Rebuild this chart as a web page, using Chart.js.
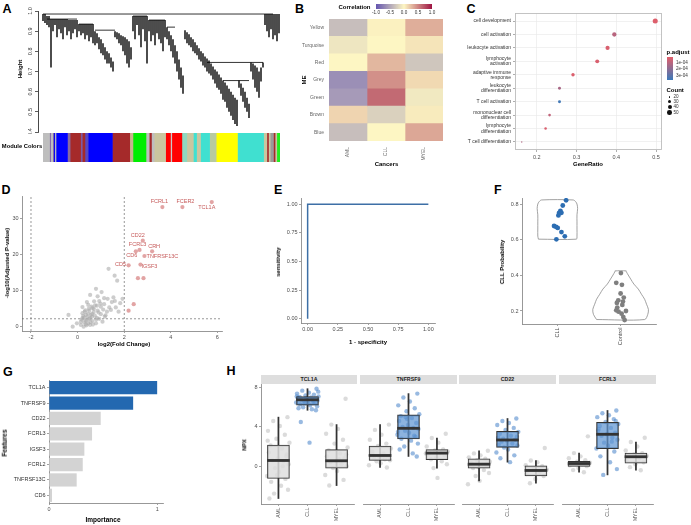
<!DOCTYPE html>
<html><head><meta charset="utf-8"><title>Figure</title>
<script src="https://cdn.jsdelivr.net/npm/chart.js@4.4.1/dist/chart.umd.min.js"></script>
<style>
html,body{margin:0;padding:0;background:#fff;}
#root{position:relative;width:691px;height:525px;overflow:hidden;font-family:'Liberation Sans',Arial,Helvetica,sans-serif;}
#root canvas{position:absolute;}
.t{position:absolute;white-space:nowrap;line-height:1;}
.sw{position:absolute;}
</style></head><body><div id="root"></div>
<script>
const FONT="'Liberation Sans', Arial, Helvetica, sans-serif";
Chart.defaults.font.family=FONT;
const root=document.getElementById('root');

// ================= DATA =================
// A: gene dendrogram (leaves left->right: leaf height, merge height) and module colour blocks
const dendroLow=[0.95,0.94,0.93,0.92,0.72,
0.90,0.93,0.87,0.91,0.89,0.86,0.92,0.88,0.90,0.86,0.89,0.91,0.87,
0.90,0.88,0.89,0.86,0.88,0.85,0.87,0.84,
0.83,0.84,0.81,0.79,0.78,0.76,0.74,0.74,0.72,0.70,
0.87,0.86,0.84,0.83,0.80,0.78,0.74,0.72,0.76,
0.90,0.86,0.93,0.88,0.82,0.91,0.85,0.74,
0.90,0.85,0.88,0.83,0.89,0.86,0.84,0.80,0.87,
0.86,0.83,0.80,0.77,0.74,0.70,0.66,0.62,0.59,
0.86,0.84,0.83,0.82,0.80,0.79,0.78,0.76,0.75,0.73,0.72,0.70,0.69,0.68,0.66,0.64,0.62,0.61,0.59,0.56,0.55,0.52,0.50,0.48,0.46,0.44,0.43,
0.62,0.58,0.55,0.52,0.50,0.47,
0.70,0.66,0.62,0.60,0.57,0.65,0.72,
0.93,0.90,0.87,0.91,0.86,0.88,0.85,0.89];
const dendroHigh=[0.985,0.985,0.975,0.975,0.96,
0.96,0.96,0.96,0.96,0.96,0.96,0.96,0.96,0.955,0.955,0.955,0.955,0.955,
0.935,0.935,0.935,0.935,0.935,0.935,0.935,0.935,
0.90,0.89,0.87,0.86,0.84,0.82,0.80,0.79,0.77,0.75,
0.90,0.895,0.89,0.88,0.875,0.87,0.86,0.85,0.82,
0.975,0.975,0.975,0.975,0.975,0.975,0.975,0.975,
0.955,0.955,0.955,0.955,0.955,0.955,0.955,0.955,0.955,
0.92,0.90,0.88,0.86,0.83,0.80,0.76,0.72,0.68,
0.905,0.895,0.885,0.87,0.86,0.845,0.83,0.815,0.80,0.79,0.775,0.765,0.755,0.74,0.725,0.71,0.70,0.685,0.67,0.655,0.645,0.63,0.615,0.60,0.585,0.57,0.56,
0.655,0.64,0.62,0.60,0.57,0.54,
0.745,0.74,0.73,0.72,0.70,0.72,0.745,
0.985,0.985,0.985,0.985,0.985,0.985,0.985,0.985];
const dendroMerges=[[0,115,0.985],[2,17,0.96],[18,25,0.935],[26,36,0.905],[45,52,0.975],[53,61,0.955],[62,66,0.92],[82,110,0.745],[90,103,0.655]];
const heightTicks=[0.4,0.5,0.6,0.7,0.8,0.9,1.0];
const moduleColors=['#bebebe','#7b5aa6','#bebebe','#7b5aa6','#0000ff','#bebebe','#0000ff','#8a6a9e','#a52a2a','#7b5aa6','#a52a2a','#5a48c0','#0000ff','#a52a2a','#c9b48f','#00ee00','#bebebe','#a52a2a','#bebebe','#cac69f','#ff0000','#c8c8c8','#ff0000','#8fd8c0','#cac69f','#40e0d0','#cac69f','#40e0d0','#b8caa0','#ffff00','#40e0d0','#cac69f','#a52a2a','#cac69f','#9a9a9a','#a52a2a','#cac69f','#22ee22'];
const moduleSizes=[6.7,1,2.3,1,1,1.3,11.7,2.7,10.7,1.7,2.7,3.3,24.7,17.7,3.3,13.3,3.3,2.3,2.7,11.7,5,1.3,10.3,5,6.7,3.3,4,9.3,6.7,21.7,26.7,3.3,1.7,1.7,3.3,1.7,1.7,3.3];

// B: module eigengene - cancer correlation
const meRows=['Yellow','Turquoise','Red','Grey','Green','Brown','Blue'];
const cancers=['AML','CLL','MYEL'];
const corrAML=[-0.35,-0.10,0.00,-0.64,-0.57,0.15,-0.35];
const corrCLL=[0.02,0.00,0.28,0.45,0.62,-0.23,0.00];
const corrMYEL=[0.32,0.08,-0.30,0.13,-0.08,0.05,0.35];
const corrTicks=[-1,-0.5,0,0.5,1];

// C: GO enrichment
const goTerms=[['cell development'],['cell activation'],['leukocyte activation'],['lymphocyte','activation'],['adaptive immune','response'],['leukocyte','differentiation'],['T cell activation'],['mononuclear cell','differentiation'],['lymphocyte','differentiation'],['T cell differentiation']];
const goRatio=[0.498,0.395,0.378,0.352,0.291,0.257,0.257,0.232,0.222,0.162];
const goCount=[55,44,42,39,33,29,29,26,25,18];
const goPadj=[0.2e-4,1.0e-4,0.3e-4,0.3e-4,0.25e-4,1.35e-4,3.5e-4,0.8e-4,0.3e-4,1.2e-4];
const goRatioTicks=[0.2,0.3,0.4,0.5];
const padjLegend=[1e-4,2e-4,3e-4];
const countLegend=[20,30,40,50];

// D: volcano
const volcanoX=[1.33,1.59,1.70,1.93,0.79,0.54,1.03,0.86,1.29,1.47,1.64,1.76,0.40,0.21,0.60,1.00,1.14,0.71,0.50,0.86,1.26,1.43,0.36,0.57,0.74,1.00,0.21,0.40,0.29,0.46,0.64,0.79,0.93,-0.39,-0.21,0.14,0.26,0.36,0.54,1.07,1.17,0.64,0.46,0.83,0.93,0.31,0.69,1.36,0.43,0.14,0.54,0.83,0.21,-0.03,1.14,1.54,1.83,0.24,0.35,0.50,0.62,0.45,0.70,0.28,0.55,0.66,0.38,0.90,1.10,0.75,1.20,0.48,0.98,1.60,0.18,0.33,0.62,0.80];
const volcanoY=[16.0,14.1,12.7,7.6,10.4,8.7,9.5,8.3,7.6,6.7,5.2,4.0,6.7,5.3,5.4,5.4,6.1,6.9,4.3,4.3,4.0,4.5,3.1,3.1,2.9,3.3,2.2,1.7,1.0,0.75,1.4,0.75,2.0,3.1,-0.2,0.3,-0.2,0.5,0.3,1.2,2.6,5.0,5.9,5.7,7.0,4.0,3.9,5.2,2.6,1.2,2.2,2.3,3.6,0.75,7.8,8.0,6.4,2.8,1.5,2.0,2.6,3.5,4.8,2.4,1.1,0.4,0.2,3.8,4.6,5.8,3.0,4.8,6.3,7.0,1.8,4.4,3.4,1.8];
const degGenes=['TCL1A','FCER2','FCRL1','CD22','FCRL3','CRH','CD6','TNFRSF13C','CD5','IGSF3','','','',''];
const degLogFC=[5.76,4.50,3.64,2.80,2.66,3.20,2.50,2.87,2.19,2.70,2.59,2.83,2.41,2.19];
const degNegLogP=[34.7,33.3,33.3,23.9,21.3,20.9,20.9,19.6,17.0,17.2,13.4,13.4,6.1,4.3];
const foldCutoffs=[-2,2];
const padjCutoff=2;
const fcTicks=[-2,0,2,4,6];
const pTicks=[0,10,20,30];

// E: ROC
const rocFPR=[0,0,1];
const rocTPR=[0,1,1];
const rocTicks=[0,0.25,0.5,0.75,1];

// F: predicted CLL probability
const probGroups=['CLL','Control'];
const cllProb=[0.821,0.792,0.762,0.751,0.751,0.736,0.677,0.672,0.666,0.643,0.619,0.602];
const cllJitter=[0.138,0.085,0.048,0.064,0.027,0.016,-0.053,-0.021,0.005,0.064,0.117,-0.016];
const ctrlProb=[0.413,0.358,0.347,0.298,0.275,0.260,0.253,0.245,0.234,0.219,0.204,0.200,0.196,0.185,0.166,0.149];
const ctrlJitter=[0.005,-0.069,0.021,0.0,0.05,-0.037,0.037,-0.059,0.027,-0.053,-0.069,0.085,-0.032,0.016,0.043,0.064];
const cllViolinY=[0.603,0.62,0.66,0.70,0.74,0.775,0.80,0.813,0.823];
const cllViolinHW=[0.30,0.31,0.31,0.31,0.31,0.32,0.31,0.29,0.25];
const ctrlViolinY=[0.152,0.181,0.209,0.238,0.266,0.294,0.323,0.351,0.379,0.402,0.421,0.425];
const ctrlViolinHW=[0.38,0.43,0.44,0.41,0.38,0.33,0.28,0.21,0.16,0.12,0.09,0.09];
const probTicks=[0.2,0.4,0.6,0.8];

// G: feature importance
const features=['TCL1A','TNFRSF9','CD22','FCRL3','IGSF3','FCRL2','TNFRSF13C','CD6'];
const importance=[1.0,0.778,0.478,0.398,0.327,0.312,0.256,0.028];
const selectedFeatures=['TCL1A','TNFRSF9'];

// H: NPX by cancer type  (box stats: min, Q1, median, Q3, max)
const npxGenes=['TCL1A','TNFRSF9','CD22','FCRL3'];
const npxGroups=['AML','CLL','MYEL'];
const npxTicks=[0,4,8];
const boxTCL1A=[[-3.3,-1.26,0.58,2.15,5.0],[5.7,6.22,6.77,7.1,7.9],[-1.98,-0.2,0.55,1.68,4.24]];
const boxTNFRSF9=[[-0.14,0.58,1.09,2.05,4.24],[0.99,2.77,3.86,5.23,7.4],[-0.2,0.65,1.33,1.68,2.87]];
const boxCD22=[[-1.5,-0.2,0.2,0.75,1.57],[0.41,1.91,2.67,3.56,4.86],[-1.74,-0.99,-0.44,0.03,0.58]];
const boxFCRL3=[[-0.62,-0.03,0.27,0.48,1.33],[-0.89,1.78,3.25,4.48,5.68],[-0.41,0.31,0.96,1.33,2.46]];
const tcl1aAML=[5.0,4.6,4.1,3.6,3.2,2.8,2.4,2.1,1.8,1.4,1.0,0.8,0.6,0.5,0.2,-0.2,-0.6,-1.0,-1.3,-1.6,-2.0,-2.4,-2.8,-3.3,0.0,1.2,-0.9,2.6];
const tcl1aCLL=[7.9,7.7,7.5,7.4,7.3,7.2,7.1,7.05,7.0,6.95,6.9,6.85,6.8,6.77,6.7,6.65,6.6,6.5,6.4,6.3,6.2,6.1,6.0,5.9,5.8,5.7,6.9,7.1,6.6,6.4,7.6,4.5,2.4];
const tcl1aMYEL=[6.87,4.24,3.8,3.3,2.7,2.3,1.9,1.6,1.3,1.0,0.8,0.55,0.4,0.2,0.0,-0.2,-0.5,-0.9,-1.4,-1.98,0.7,1.2];
const tnfrsf9AML=[4.24,3.7,3.2,2.7,2.3,2.05,1.8,1.5,1.3,1.1,1.0,0.9,0.8,0.7,0.6,0.5,0.3,0.1,-0.14,1.2,0.95];
const tnfrsf9CLL=[7.4,7.0,6.6,6.2,5.9,5.6,5.3,5.1,4.9,4.6,4.4,4.2,4.0,3.9,3.8,3.6,3.4,3.2,3.0,2.8,2.6,2.3,2.0,1.7,1.3,0.99,4.8,3.5,3.1,5.0];
const tnfrsf9MYEL=[3.3,2.87,2.4,2.0,1.7,1.6,1.5,1.4,1.33,1.2,1.1,0.9,0.7,0.5,0.2,-0.2,-1.2,1.3];
const cd22AML=[1.57,1.3,1.1,0.9,0.75,0.6,0.45,0.3,0.2,0.1,0.0,-0.1,-0.2,-0.4,-0.7,-1.0,-1.5,-1.85,0.25];
const cd22CLL=[4.86,4.6,4.4,4.2,3.9,3.7,3.5,3.3,3.1,2.9,2.7,2.6,2.5,2.3,2.1,1.9,1.7,1.4,1.1,0.8,0.41,3.0,2.8,2.2];
const cd22MYEL=[1.85,0.58,0.4,0.1,0.0,-0.2,-0.35,-0.44,-0.6,-0.8,-1.0,-1.3,-1.74,-0.5];
const fcrl3AML=[3.04,1.33,1.0,0.8,0.6,0.45,0.35,0.27,0.2,0.1,0.0,-0.2,-0.4,-0.62,0.3];
const fcrl3CLL=[5.68,5.4,5.2,5.0,4.8,4.5,4.3,4.1,3.9,3.6,3.4,3.25,3.1,2.9,2.7,2.4,2.1,1.8,1.5,1.0,0.4,-0.3,-0.89,3.8,2.5,4.6];
const fcrl3MYEL=[2.9,2.46,2.0,1.6,1.33,1.2,1.05,0.96,0.8,0.6,0.4,0.2,-0.1,-0.41,1.0];
const npxJitter=[0.31,-0.18,0.05,-0.36,0.22,-0.07,0.38,-0.27,0.12,-0.33,0.27,-0.02,-0.21,0.17,0.35,-0.12,0.02,-0.39,0.24,-0.25,0.09,0.33,-0.15,-0.31,0.15,0.29,-0.05,-0.37,0.2,-0.1,0.37,-0.23,0.07,-0.29];

// ================= HELPERS =================
const P=v=>v+'px';
function addCanvas(x,y,w,h){const c=document.createElement('canvas');c.width=w;c.height=h;Object.assign(c.style,{left:P(x),top:P(y),width:P(w),height:P(h)});root.appendChild(c);return c;}
function txt(s,x,y,o={}){const d=document.createElement('div');d.className='t';d.textContent=s;
  d.style.left=P(x);d.style.top=P(y);d.style.fontSize=P(o.size||6);d.style.fontWeight=o.bold?'bold':'normal';d.style.color=o.color||'#000';
  const tx=o.anchor==='r'?'-100%':o.anchor==='l'?'0':'-50%';
  d.style.transform=`translate(${tx},-50%)`+(o.rot?` rotate(${o.rot}deg)`:'');root.appendChild(d);return d;}
function rect(x,y,w,h,css){const d=document.createElement('div');d.className='sw';Object.assign(d.style,{left:P(x),top:P(y),width:P(w),height:P(h)},css);root.appendChild(d);return d;}
function chart(r,p,cfg){
  const [cx,cy,cw,ch]=r,[L,T,R,B]=p;const c=addCanvas(cx,cy,cw,ch);
  const o=cfg.options=cfg.options||{};
  Object.assign(o,{responsive:false,animation:false,devicePixelRatio:1,maintainAspectRatio:false});
  o.plugins=Object.assign({legend:{display:false},tooltip:{enabled:false}},o.plugins||{});
  let xh=true,yh=true;
  for(const k in o.scales){const s=o.scales[k];if(s.display===false)continue;
    if(k[0]==='x'){xh=false;s.afterFit=a=>{a.height=cy+ch-B;a.paddingLeft=a.paddingRight=a.paddingTop=a.paddingBottom=0;};}
    else{yh=false;s.afterFit=a=>{a.width=L-cx;a.paddingLeft=a.paddingRight=a.paddingTop=a.paddingBottom=0;};}}
  o.layout={padding:{left:yh?L-cx:0,top:T-cy,right:cx+cw-R,bottom:xh?cy+ch-B:0}};
  return new Chart(c,cfg);
}
const TF={family:FONT,size:5.5};
function ax(o){
  const s={type:o.type||'linear',display:true,offset:!!o.offset,reverse:!!o.reverse,
    ticks:{display:o.labels!==false,font:o.font||TF,color:o.tcolor||'#4d4d4d',padding:o.pad??1.5,autoSkip:false,maxRotation:o.rot||0,minRotation:o.rot||0},
    grid:{display:o.grid!==false,offset:false,drawOnChartArea:!!o.gridOn,color:o.gridColor||'#ebebeb',lineWidth:0.7,
      drawTicks:true,tickLength:o.tickLen??2,tickColor:o.line||'#8c8c8c',tickWidth:0.8},
    border:{display:o.border!==false,color:o.line||'#8c8c8c',width:0.9}};
  if(o.min!==undefined)s.min=o.min;if(o.max!==undefined)s.max=o.max;
  if(o.ticksAt)s.afterBuildTicks=a=>{a.ticks=o.ticksAt.map(v=>({value:v}));};
  if(o.fmt)s.ticks.callback=o.fmt;
  if(o.stacked)s.stacked=true;
  return s;
}
function mix(a,b,t){return a.map((v,i)=>Math.round(v+(b[i]-v)*t));}
const CORR_NEG=[100,85,175],CORR_MID=[253,246,195],CORR_POS=[158,20,66];
function corrColor(v){const c=v<0?mix(CORR_MID,CORR_NEG,-v):mix(CORR_MID,CORR_POS,v);return `rgb(${c})`;}
const PADJ_LO=0.1e-4,PADJ_HI=3.65e-4;
function padjColor(p){const t=Math.max(0,Math.min(1,(p-PADJ_LO)/(PADJ_HI-PADJ_LO)));return `rgb(${mix([226,94,106],[60,122,186],t)})`;}
function countRadius(c){return 0.4*Math.sqrt(c-15);}
function framePlugin(col){return {id:'frame',afterDraw(ch){const a=ch.chartArea,c=ch.ctx;c.save();c.strokeStyle=col;c.lineWidth=0.9;c.strokeRect(a.left+0.5,a.top+0.5,a.right-a.left-1,a.bottom-a.top-1);c.restore();}};}

// ================= PANEL LETTERS =================
[['A',2.5,8.8],['B',295,8.5],['C',466.5,9.3],['D',1.5,189.6],['E',274,190.4],['F',494,189.5],['G',3,372],['H',226.5,370.5]]
 .forEach(([s,x,y])=>txt(s,x,y,{size:12.5,bold:true,anchor:'l'}));

// ================= A =================
function rotYLabels(xPos,values,labels){return {id:'rotY',afterDraw(ch){const s=ch.scales.y,c=ch.ctx;c.save();c.font=`5.5px ${FONT}`;c.fillStyle='#333';c.textAlign='center';c.textBaseline='middle';
  values.forEach((v,i)=>{c.save();c.translate(xPos,s.getPixelForValue(v));c.rotate(-Math.PI/2);c.fillText(labels[i],0,0);c.restore();});c.restore();}};}
chart([0,0,286,134],[38,11,280,132],{
  type:'bar',
  data:{datasets:[
    {type:'line',order:1,data:dendroMerges.flatMap(([a,b,h])=>[{x:a,y:h},{x:b,y:h},{x:b,y:null}]),borderColor:'#000',borderWidth:0.8,pointRadius:0,spanGaps:false},
    {type:'bar',order:2,data:dendroLow.map((lo,i)=>({x:i,y:[lo,dendroHigh[i]]})),backgroundColor:'#000',barThickness:1.4,inflateAmount:0,grouped:false,borderWidth:0}
  ]},
  options:{scales:{x:{type:'linear',display:false,min:-2.5,max:118.5,offset:false,grid:{offset:false}},
    y:ax({min:0.4,max:1.0,ticksAt:heightTicks,labels:false,line:'#333',tickLen:3})}},
  plugins:[rotYLabels(30,heightTicks,heightTicks.map(v=>v.toFixed(1)))]
});
const moduleTotal=moduleSizes.reduce((a,b)=>a+b,0);
chart([43,133,237,29],[43,133,280,162],{
  type:'bar',
  data:{labels:[''],datasets:moduleColors.map((c,i)=>({data:[moduleSizes[i]],backgroundColor:c,barPercentage:1,categoryPercentage:1,borderWidth:0,inflateAmount:0.3}))},
  options:{indexAxis:'y',scales:{x:{display:false,stacked:true,min:0,max:moduleTotal},y:{display:false,stacked:true}}}
});
txt('Height',20,69,{size:6,bold:true,rot:-90});
txt('Module Colors',22,147,{size:5.8,bold:true});

// ================= B =================
chart([286,0,174,175],[329,19,443,141],{
  type:'bar',
  data:{labels:meRows,datasets:[corrAML,corrCLL,corrMYEL].map(arr=>({data:arr.map(()=>1),backgroundColor:arr.map(corrColor),barPercentage:1,categoryPercentage:1,borderWidth:0}))},
  options:{indexAxis:'y',scales:{
    x:ax({min:0,max:3,stacked:true,ticksAt:[0.5,1.5,2.5],fmt:(v,i)=>cancers[i],rot:90,grid:false,border:false,pad:4,tcolor:'#666',font:{family:FONT,size:5}}),
    y:Object.assign(ax({type:'category',stacked:true,grid:false,border:false,pad:3,tcolor:'#666',font:{family:FONT,size:5}}),{offset:true})
  }}
});
txt('Correlation',354.5,6.8,{size:6,bold:true});
rect(376,4,56,5.3,{background:`linear-gradient(to right, ${[-1,-0.5,0,0.5,1].map(corrColor).join(',')})`});
corrTicks.forEach(v=>txt(v.toFixed(1),376+(v+1)/2*56,13.2,{size:4.6,color:'#333'}));
txt('ME',304,80,{size:6,bold:true,rot:-90});
txt('Cancers',386.5,164,{size:6,bold:true});

// ================= C =================
chart([462,0,229,175],[515,13,662,150],{
  type:'scatter',
  data:{datasets:[{data:goRatio.map((r,i)=>({x:r,y:i+1})),pointRadius:goCount.map(countRadius),pointBackgroundColor:goPadj.map(padjColor),pointBorderWidth:0,pointHoverRadius:0}]},
  options:{scales:{
    x:ax({min:0.145,max:0.515,ticksAt:goRatioTicks,fmt:v=>v.toFixed(1),gridOn:true,border:false,line:'#999',pad:2}),
    y:ax({min:0.4,max:10.6,reverse:true,ticksAt:goTerms.map((t,i)=>i+1),fmt:v=>goTerms[v-1],gridOn:true,border:false,line:'#999',pad:2,font:{family:FONT,size:5,lineHeight:1.05},tcolor:'#333'})
  }},
  plugins:[framePlugin('#bdbdbd')]
});
txt('GeneRatio',588,164,{size:6,bold:true});
txt('p.adjust',666.5,52,{size:6,bold:true,anchor:'l'});
rect(667,57,6,23,{background:`linear-gradient(to bottom, ${padjColor(PADJ_LO)}, ${padjColor((PADJ_LO+PADJ_HI)/2)}, ${padjColor(PADJ_HI)})`});
padjLegend.forEach(p=>txt(p.toExponential(0).replace('e-','e-0'),676,57+(p-PADJ_LO)/(PADJ_HI-PADJ_LO)*23,{size:4.6,color:'#333',anchor:'l'}));
txt('Count',666.5,90,{size:6,bold:true,anchor:'l'});
countLegend.forEach((c,i)=>{const y=[96.7,101.7,107,112.7][i],r=countRadius(c);rect(669.5-r,y-r,2*r,2*r,{borderRadius:'50%',background:'#111'});txt(String(c),673.5,y,{size:4.6,color:'#333',anchor:'l'});});

// ================= D =================
const volcanoLabelOffsets=[[-5,5],[3,-6],[-3,-6],[-5,-5],[-2,-5],[2,-5],[-4,4],[18,0],[-8,-1],[9,1.5]];
const volcanoLabels={id:'vlab',afterDatasetsDraw(ch){const {x,y}=ch.scales,c=ch.ctx;c.save();c.font=`5.5px ${FONT}`;c.fillStyle='#c65a5a';c.textAlign='center';c.textBaseline='middle';
  degGenes.forEach((g,i)=>{if(!g)return;const o=volcanoLabelOffsets[i];c.fillText(g,x.getPixelForValue(degLogFC[i])+o[0],y.getPixelForValue(degNegLogP[i])+o[1]);});c.restore();}};
const D_XMIN=-2.386,D_XMAX=6.2,D_YMIN=-1.4,D_YMAX=36.4;
const dash={type:'line',order:3,borderColor:'#555',borderWidth:0.6,borderDash:[2,2],pointRadius:0};
chart([0,185,236,165],[22,196,222,331],{
  type:'scatter',
  data:{datasets:[
    ...foldCutoffs.map(v=>Object.assign({data:[{x:v,y:D_YMIN},{x:v,y:D_YMAX}]},dash)),
    Object.assign({data:[{x:D_XMIN,y:padjCutoff},{x:D_XMAX,y:padjCutoff}]},dash),
    {order:2,data:volcanoX.map((x,i)=>({x,y:volcanoY[i]})),pointRadius:2.1,pointBackgroundColor:'rgba(172,172,172,0.6)',pointBorderWidth:0},
    {order:1,data:degLogFC.map((x,i)=>({x,y:degNegLogP[i]})),pointRadius:2.1,pointBackgroundColor:'rgba(206,104,104,0.6)',pointBorderWidth:0}
  ]},
  options:{scales:{x:ax({min:D_XMIN,max:D_XMAX,ticksAt:fcTicks,fmt:v=>String(v)}),y:ax({min:D_YMIN,max:D_YMAX,ticksAt:pTicks,fmt:v=>String(v)})}},
  plugins:[volcanoLabels]
});
txt('log2(Fold Change)',124,343.5,{size:6,bold:true});
txt('-log10(Adjusted P-value)',7,263,{size:6,bold:true,rot:-90});

// ================= E =================
chart([236,185,220,165],[301,198,435,323],{
  type:'scatter',
  data:{datasets:[{type:'line',data:rocFPR.map((x,i)=>({x,y:rocTPR[i]})),borderColor:'#3d6fa6',borderWidth:1.5,pointRadius:0,tension:0}]},
  options:{scales:{x:ax({min:-0.055,max:1.055,ticksAt:rocTicks,fmt:v=>v.toFixed(2)}),y:ax({min:-0.037,max:1.055,ticksAt:rocTicks,fmt:v=>v.toFixed(2)})}}
});
txt('sensitivity',278,262,{size:6,bold:true,rot:-90});
txt('1 - specificity',368,341.5,{size:6,bold:true});

// ================= F =================
function violin(center,ys,hw){const left=ys.map((y,i)=>({x:center-hw[i],y})),right=ys.map((y,i)=>({x:center+hw[i],y})).reverse();return left.concat(right,[left[0]]);}
chart([460,185,231,165],[522,198,656,324],{
  type:'scatter',
  data:{datasets:[
    {type:'line',order:2,data:violin(1,cllViolinY,cllViolinHW),borderColor:'#8a8a8a',borderWidth:0.8,pointRadius:0,tension:0.3},
    {type:'line',order:2,data:violin(2,ctrlViolinY,ctrlViolinHW),borderColor:'#8a8a8a',borderWidth:0.8,pointRadius:0,tension:0.3},
    {order:1,data:cllProb.map((y,i)=>({x:1+cllJitter[i],y})),pointRadius:2.4,pointBackgroundColor:'#2c6db2',pointBorderWidth:0},
    {order:1,data:ctrlProb.map((y,i)=>({x:2+ctrlJitter[i],y})),pointRadius:2.4,pointBackgroundColor:'#7f7f7f',pointBorderWidth:0}
  ]},
  options:{scales:{x:ax({min:0.44,max:2.56,ticksAt:[1,2],fmt:(v,i)=>probGroups[i],rot:90}),y:ax({min:0.127,max:0.834,ticksAt:probTicks,fmt:v=>v.toFixed(1)})}}
});
txt('CLL Probability',502,262,{size:6,bold:true,rot:-90});

// ================= G =================
chart([0,360,236,165],[49,380,163,503],{
  type:'bar',
  data:{labels:features,datasets:[{data:importance,backgroundColor:features.map(f=>selectedFeatures.includes(f)?'#2368b0':'#d3d3d3'),categoryPercentage:0.86,barPercentage:1,borderWidth:0}]},
  options:{indexAxis:'y',scales:{x:ax({min:0,max:1.054,ticksAt:[0,1],fmt:v=>String(v)}),y:Object.assign(ax({type:'category',tcolor:'#333'}),{offset:true})}}
});
txt('Features',5,443,{size:6.5,bold:true,rot:-90});
txt('Importance',103,519.5,{size:6.5,bold:true});

// ================= H =================
const npxBoxes=[boxTCL1A,boxTNFRSF9,boxCD22,boxFCRL3];
const npxPoints=[[tcl1aAML,tcl1aCLL,tcl1aMYEL],[tnfrsf9AML,tnfrsf9CLL,tnfrsf9MYEL],[cd22AML,cd22CLL,cd22MYEL],[fcrl3AML,fcrl3CLL,fcrl3MYEL]];
const facetX=[[261,357],[360,457],[459,556],[559,656]];
const H_YMIN=-3.86,H_YMAX=8.38;
npxGenes.forEach((g,gi)=>{
  const [L,R]=facetX[gi],boxes=npxBoxes[gi],pts=npxPoints[gi],first=gi===0;
  const isCLL=j=>npxGroups[j]==='CLL';
  const ds=[
    {order:1,data:boxes.map((b,j)=>({x:j+1,y:[b[2]-0.11,b[2]+0.11]})),backgroundColor:'#333',barThickness:22,grouped:false,borderWidth:0},
    {order:2,data:boxes.map((b,j)=>({x:j+1,y:[b[1],b[3]]})),backgroundColor:boxes.map((b,j)=>isCLL(j)?'rgba(95,150,210,0.72)':'rgba(222,222,222,0.85)'),borderColor:'#333',borderWidth:1,borderSkipped:false,barThickness:22,grouped:false},
    {order:3,data:boxes.map((b,j)=>({x:j+1,y:[b[0],b[4]]})),backgroundColor:'#333',barThickness:1.1,grouped:false,borderWidth:0}
  ];
  pts.forEach((arr,j)=>ds.push({type:'scatter',order:4,data:arr.map((y,k)=>({x:j+1+npxJitter[k%npxJitter.length],y})),pointRadius:2.2,pointBorderWidth:0,
    pointBackgroundColor:isCLL(j)?'rgba(70,130,200,0.55)':'rgba(195,195,195,0.6)'}));
  const rectC=first?[236,380,R-236+1,145]:[L-1,380,R-L+2,145];
  chart(rectC,[L,384,R,504],{
    type:'bar',data:{datasets:ds},
    options:{scales:{x:ax({min:0.4,max:3.6,ticksAt:[1,2,3],fmt:(v,i)=>npxGroups[i],rot:90,font:{family:FONT,size:5}}),
      y:first?ax({min:H_YMIN,max:H_YMAX,ticksAt:npxTicks,fmt:v=>String(v)}):{display:false,min:H_YMIN,max:H_YMAX}}}
  });
  rect(L,375,R-L,9,{background:'#dedede'});
  txt(g,(L+R)/2,379.6,{size:5.3,bold:true,color:'#222'});
});
txt('NPX',245,445,{size:5.5,bold:true,rot:-90});
</script></body></html>
